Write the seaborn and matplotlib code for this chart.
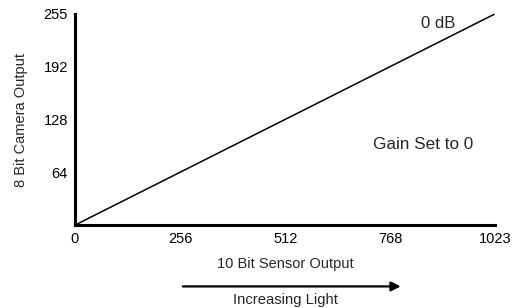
import seaborn as sns
import matplotlib.pyplot as plt
import pandas as pd

# data
sensor = [0, 1023]
camera = [0, 255]
x_ticks = [0, 256, 512, 768, 1023]
y_ticks = [64, 128, 192, 255]

df = pd.DataFrame({"sensor": sensor, "camera": camera})

sns.set_style("white")
plt.rcParams['font.family'] = ['Liberation Sans', 'DejaVu Sans']

fig = plt.figure(figsize=(5.2, 3.08), dpi=100)
ax = fig.add_axes([0.144, 0.269, 0.808, 0.686])

sns.lineplot(data=df, x="sensor", y="camera", color="black", linewidth=1.1, ax=ax)

ax.set_xlim(0, 1023)
ax.set_ylim(0, 255)
ax.set_xticks(x_ticks)
ax.set_yticks(y_ticks)
ax.set_xticklabels([str(v) for v in x_ticks])
ax.set_yticklabels([str(v) for v in y_ticks])
ax.tick_params(direction="in", length=5, width=1, labelsize=10.5, colors="black", pad=5)

for side in ["top", "right"]:
    ax.spines[side].set_visible(False)
for side in ["left", "bottom"]:
    ax.spines[side].set_linewidth(2.2)
    ax.spines[side].set_color("black")

ax.set_xlabel("10 Bit Sensor Output", fontsize=10.5, labelpad=8)
ax.set_ylabel("8 Bit Camera Output", fontsize=10.5, labelpad=11)

ax.text(884, 252, "0 dB", ha="center", va="top", fontsize=12)
ax.text(848, 97, "Gain Set to 0", ha="center", va="center", fontsize=12.3)

# arrow under the axis
ax.annotate("", xy=(800, -0.29), xytext=(256, -0.29),
            xycoords=("data", "axes fraction"), textcoords=("data", "axes fraction"),
            arrowprops=dict(arrowstyle="-|>", color="black", lw=1.6, mutation_scale=14),
            annotation_clip=False)
ax.text(512, -0.32, "Increasing Light", transform=ax.get_xaxis_transform(),
        ha="center", va="top", fontsize=10.6)

fig.savefig("out.png", dpi=100)
